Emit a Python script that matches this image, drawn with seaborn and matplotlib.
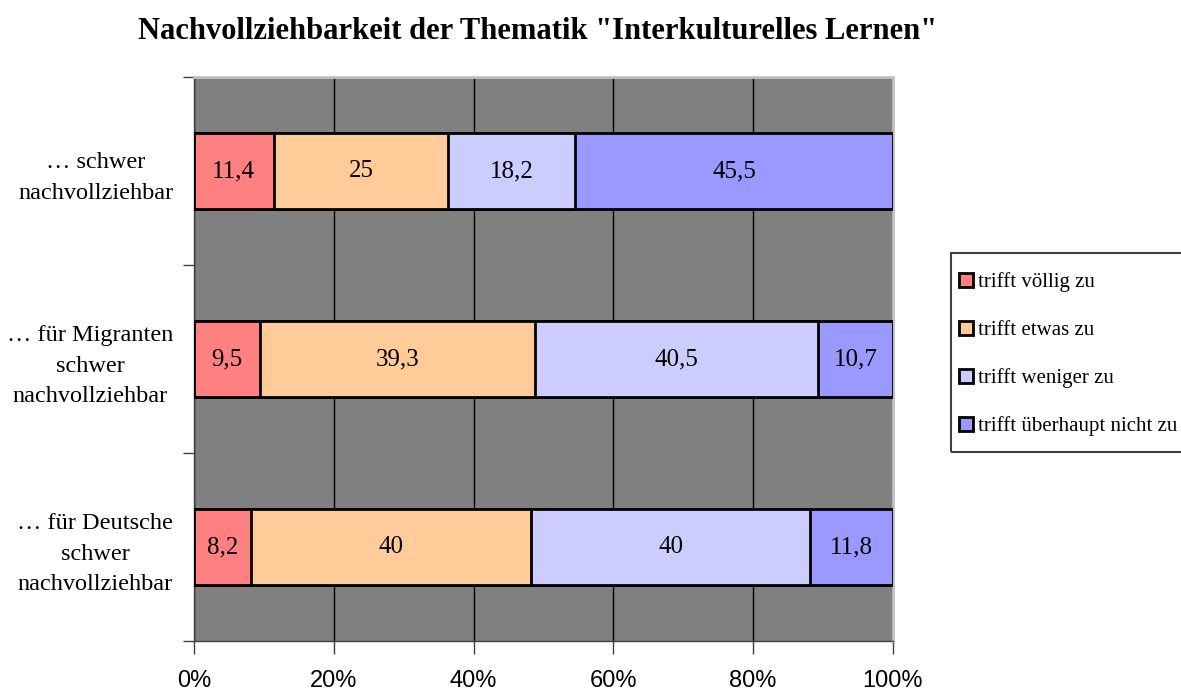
import matplotlib
matplotlib.use("Agg")
from matplotlib import pyplot as plt
from matplotlib.patches import Patch, Rectangle
import seaborn as sns
import numpy as np

# data
categories = ["… schwer\nnachvollziehbar",
              "… für Migranten\nschwer\nnachvollziehbar",
              "… für Deutsche\nschwer\nnachvollziehbar"]
series = ["trifft völlig zu", "trifft etwas zu",
          "trifft weniger zu", "trifft überhaupt nicht zu"]
voellig = [11.4, 9.5, 8.2]
etwas = [25, 39.3, 40]
weniger = [18.2, 40.5, 40]
nicht = [45.5, 10.7, 11.8]
colors = ["#FF8080", "#FFCC99", "#CCCCFF", "#9999FF"]
xticks = [0, 20, 40, 60, 80, 100]

sns.set_style("white")
plt.rcParams["font.family"] = ["Liberation Serif", "DejaVu Serif"]
plt.rcParams["text.color"] = "black"
plt.rcParams["xtick.color"] = "black"
plt.rcParams["ytick.color"] = "black"

values = np.array([voellig, etwas, weniger, nicht], dtype=float)
# 100 % stacked: share of each row
shares = values / values.sum(axis=0) * 100
cums = np.cumsum(shares, axis=0)

fig = plt.figure(figsize=(11.81, 6.91), dpi=100)
ax = fig.add_axes([0.1643, 0.0724, 0.5918, 0.8162])
ax.set_facecolor("#808080")

# draw from the widest cumulative bar down so each segment shows
for i in range(len(series) - 1, -1, -1):
    sns.barplot(x=cums[i], y=categories, orient="h", color=colors[i],
                edgecolor="black", linewidth=2, width=0.4, saturation=1,
                ax=ax, zorder=3)

# value labels in the middle of each segment
for i in range(len(series)):
    for j in range(len(categories)):
        mid = cums[i, j] - shares[i, j] / 2
        txt = f"{values[i, j]:g}".replace(".", ",")
        ax.text(mid, j, txt, ha="center", va="center", fontsize=18,
                color="black", zorder=4)

ax.set_xlim(0, 100)
ax.set_ylim(2.5, -0.5)
ax.set_xticks(xticks)
ax.set_xticklabels([f"{t}%" for t in xticks], fontfamily="Liberation Sans",
                   fontsize=17)
ax.grid(axis="x", color="black", linewidth=1, zorder=0)
ax.set_axisbelow(True)
ax.set_xlabel("")
ax.set_ylabel("")

ax.set_yticks([-0.5, 0.5, 1.5, 2.5], minor=True)
ax.tick_params(axis="y", which="major", length=0, pad=15, labelsize=17.5)
ax.tick_params(axis="y", which="minor", length=8, width=1, color="#404040",
               direction="out", left=True)
ax.tick_params(axis="x", which="major", length=9, width=1, color="#404040",
               direction="out", bottom=True, pad=12)
for lab in ax.get_yticklabels():
    lab.set_multialignment("center")
    lab.set_linespacing(1.6)

for side in ["left", "bottom"]:
    ax.spines[side].set_color("#404040")
    ax.spines[side].set_linewidth(1)
for side in ["top", "right"]:
    ax.spines[side].set_color("#C0C0C0")
    ax.spines[side].set_linewidth(2)

fig.text(0.455, 0.955, 'Nachvollziehbarkeit der Thematik "Interkulturelles Lernen"',
         ha="center", va="center", fontsize=22, fontweight="bold", color="black")

handles = [Patch(facecolor=c, edgecolor="black", linewidth=2) for c in colors]
leg = fig.legend(handles, series, loc="center left",
                 bbox_to_anchor=(0.812, 0.487), fontsize=15, frameon=False,
                 labelspacing=1.36, handlelength=0.65, handleheight=0.65,
                 handletextpad=0.25, borderpad=0, borderaxespad=0)
# legend box runs off the right edge, as in the original
fig.add_artist(Rectangle((0.8053, 0.3459), 0.25, 0.288, transform=fig.transFigure,
                         fill=False, edgecolor="#404040", linewidth=1.5))

fig.savefig("out.png", dpi=100)
